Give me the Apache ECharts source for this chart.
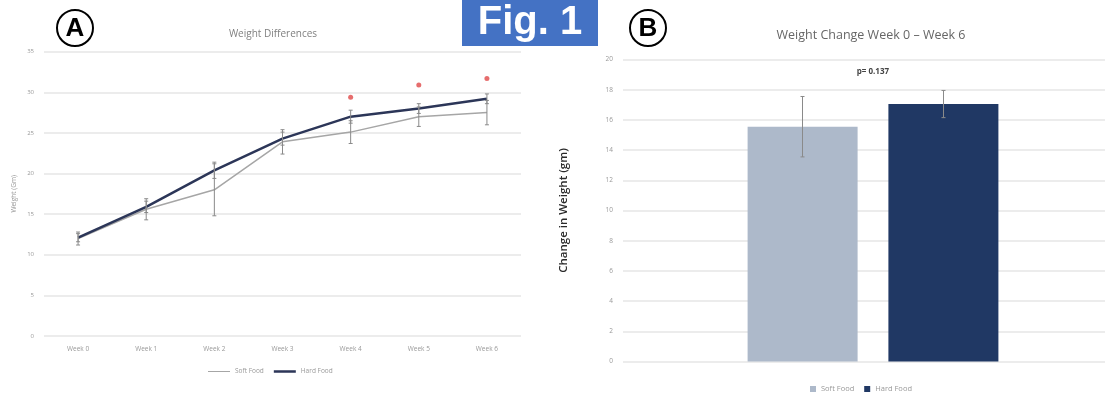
<!DOCTYPE html>
<html>
<head>
<meta charset="utf-8">
<script src="https://cdn.jsdelivr.net/npm/echarts@6/dist/echarts.min.js"></script>
<style>
  html, body { margin: 0; padding: 0; background: #fff; }
  #chart { width: 1105px; height: 396px; }
</style>
</head>
<body>
<div id="chart"></div>
<script>
// Panel A - weekly weights
const weeks = ['Week 0', 'Week 1', 'Week 2', 'Week 3', 'Week 4', 'Week 5', 'Week 6'];
const softFood = [12.0, 15.6, 18.0, 23.9, 25.1, 27.0, 27.5];
const softErr = [0.8, 1.3, 3.2, 1.5, 1.4, 1.2, 1.5];
const hardFood = [12.1, 15.9, 20.4, 24.3, 27.0, 28.0, 29.2];
const hardErr = [0.5, 0.7, 1.0, 0.8, 0.8, 0.6, 0.6];
const sigMarks = [null, null, null, null, 29.4, 30.9, 31.7];
const weightTicks = [0, 5, 10, 15, 20, 25, 30, 35];

// Panel B - change week 0 to week 6
const groups = ['Soft Food', 'Hard Food'];
const changeMean = [15.55, 17.05];
const changeErr = [2.0, 0.9];
const changeTicks = [0, 2, 4, 6, 8, 10, 12, 14, 16, 18, 20];

const softLine = '#a6a6a6';
const hardLine = '#2c3658';
const softBar = '#adb9ca';
const hardBar = '#203864';
const errColor = '#8a8a8a';

const chart = echarts.init(document.getElementById('chart'));

// error bar renderer for category axes, dx shifts within a band
function errorBars(dx, cap) {
    return function (params, api) {
        const x = api.value(0);
        const lo = api.coord([x, api.value(1)]);
        const hi = api.coord([x, api.value(2)]);
        const cx = lo[0] + dx;
        const style = { stroke: errColor, lineWidth: 1 };
        return {
            type: 'group',
            children: [
                { type: 'line', shape: { x1: cx, y1: lo[1], x2: cx, y2: hi[1] }, style: style },
                { type: 'line', shape: { x1: cx - cap, y1: lo[1], x2: cx + cap, y2: lo[1] }, style: style },
                { type: 'line', shape: { x1: cx - cap, y1: hi[1], x2: cx + cap, y2: hi[1] }, style: style }
            ]
        };
    };
}

const softBars = weeks.map((w, i) => [i, softFood[i] - softErr[i], softFood[i] + softErr[i]]);
const hardBars = weeks.map((w, i) => [i, hardFood[i] - hardErr[i], hardFood[i] + hardErr[i]]);

// legend line icons: invisible corner dots fix the box so the line keeps its thickness
const thinIcon = 'path://M0,0H0.01V0.01H0Z M0,2.6H22V3.4H0Z M0,5.99H0.01V6H0Z';
const thickIcon = 'path://M0,0H0.01V0.01H0Z M0,1.8H22V4.2H0Z M0,5.99H0.01V6H0Z';

chart.setOption({
    animation: false,
    textStyle: { fontFamily: 'Open Sans, Noto Sans, sans-serif' },
    title: [
        { text: 'Weight Differences', left: 268, top: 24, textAlign: 'center',
          textStyle: { fontSize: 10, fontWeight: 'normal', color: '#7f7f7f' } },
        { text: 'Weight Change Week 0 \u2013 Week 6', left: 866, top: 24, textAlign: 'center',
          textStyle: { fontSize: 12.5, fontWeight: 'normal', color: '#666' } }
    ],
    legend: [
        { data: [
              { name: 'Soft Food', icon: thinIcon, itemStyle: { color: softLine } },
              { name: 'Hard Food', icon: thickIcon, itemStyle: { color: hardLine } }
          ],
          left: 203, top: 363, itemWidth: 22, itemHeight: 6, itemGap: 10,
          textStyle: { fontSize: 6.5, color: '#999' } },
        { data: ['Soft Food ', 'Hard Food '], left: 805, top: 380, itemWidth: 6, itemHeight: 6, itemGap: 8,
          icon: 'rect', textStyle: { fontSize: 7.5, color: '#999' } }
    ],
    grid: [
        { left: 44, top: 51.7, width: 477, height: 284.3 },
        { left: 623, top: 59.5, right: 0, height: 302 },
        { left: 641, top: 59.5, right: 0, height: 302 }
    ],
    xAxis: [
        { type: 'category', gridIndex: 0, data: weeks,
          axisLine: { show: false }, axisTick: { show: false },
          axisLabel: { fontSize: 6.5, color: '#999', margin: 10 } },
        { type: 'category', gridIndex: 1, data: [''], show: false },
        { type: 'category', gridIndex: 2, data: ['Week 0 \u2013 Week 6'],
          axisLine: { show: false }, axisTick: { show: false }, axisLabel: { show: false } }
    ],
    yAxis: [
        { type: 'value', gridIndex: 0, min: weightTicks[0], max: weightTicks[weightTicks.length - 1], interval: 5,
          name: 'Weight (Gm)', nameLocation: 'middle', nameGap: 26,
          nameTextStyle: { fontSize: 6.5, color: '#999' },
          axisLabel: { fontSize: 6, color: '#999', margin: 10 },
          splitLine: { lineStyle: { color: '#e6e6e6', width: 1.5 } } },
        { type: 'value', gridIndex: 1, min: changeTicks[0], max: changeTicks[changeTicks.length - 1], interval: 2,
          name: 'Change in Weight (gm)', nameLocation: 'middle', nameGap: 53,
          nameTextStyle: { fontSize: 11.5, color: '#2a2a2a', fontWeight: 600 },
          axisLabel: { fontSize: 6.5, color: '#999', margin: 10 },
          splitLine: { lineStyle: { color: '#e6e6e6', width: 1.5 } } },
        { type: 'value', gridIndex: 2, min: changeTicks[0], max: changeTicks[changeTicks.length - 1],
          show: false, splitLine: { show: false } }
    ],
    series: [
        { name: 'Soft Food', type: 'line', xAxisIndex: 0, yAxisIndex: 0, data: softFood,
          symbol: 'none', lineStyle: { color: softLine, width: 1.5 }, itemStyle: { color: softLine }, z: 3 },
        { name: 'Hard Food', type: 'line', xAxisIndex: 0, yAxisIndex: 0, data: hardFood,
          symbol: 'none', lineStyle: { color: hardLine, width: 2.5 }, itemStyle: { color: hardLine }, z: 4 },
        { type: 'custom', xAxisIndex: 0, yAxisIndex: 0, data: softBars, renderItem: errorBars(0, 2), z: 5 },
        { type: 'custom', xAxisIndex: 0, yAxisIndex: 0, data: hardBars, renderItem: errorBars(0, 2), z: 5 },
        { type: 'scatter', xAxisIndex: 0, yAxisIndex: 0, data: sigMarks, symbol: 'circle', symbolSize: 5,
          itemStyle: { color: '#e04848' } },
        { name: 'Soft Food ', type: 'bar', xAxisIndex: 2, yAxisIndex: 2, data: [changeMean[0]],
          barWidth: 110, barGap: '28%', itemStyle: { color: softBar } },
        { name: 'Hard Food ', type: 'bar', xAxisIndex: 2, yAxisIndex: 2, data: [changeMean[1]],
          barWidth: 110, itemStyle: { color: hardBar },
          markPoint: {
              symbol: 'rect', symbolSize: 1, itemStyle: { color: 'transparent' },
              data: [{ coord: [0, 19.2], label: { show: true, formatter: 'p= 0.137', fontSize: 8, color: '#444',
                       fontWeight: 'bold', offset: [-70.5, 0] } }]
          } },
        { type: 'custom', xAxisIndex: 2, yAxisIndex: 2,
          data: [[0, changeMean[0] - changeErr[0], changeMean[0] + changeErr[0]]],
          renderItem: errorBars(-70.5, 2), z: 5 },
        { type: 'custom', xAxisIndex: 2, yAxisIndex: 2,
          data: [[0, changeMean[1] - changeErr[1], changeMean[1] + changeErr[1]]],
          renderItem: errorBars(70.5, 2), z: 5 }
    ],
    graphic: [
        { type: 'circle', shape: { cx: 75, cy: 28, r: 18 }, style: { fill: '#fff', stroke: '#000', lineWidth: 2 } },
        { type: 'text', x: 75, y: 29, style: { text: 'A', fontSize: 26, fontWeight: 'bold', fill: '#000',
          align: 'center', verticalAlign: 'middle', fontFamily: 'Liberation Sans, Arial, sans-serif' } },
        { type: 'circle', shape: { cx: 648, cy: 28, r: 18 }, style: { fill: '#fff', stroke: '#000', lineWidth: 2 } },
        { type: 'text', x: 648, y: 29, style: { text: 'B', fontSize: 26, fontWeight: 'bold', fill: '#000',
          align: 'center', verticalAlign: 'middle', fontFamily: 'Liberation Sans, Arial, sans-serif' } },
        { type: 'rect', shape: { x: 462, y: 0, width: 136, height: 46 }, style: { fill: '#4472c4' } },
        { type: 'text', x: 530, y: 23, style: { text: 'Fig. 1', fontSize: 40, fontWeight: 'bold', fill: '#fff',
          align: 'center', verticalAlign: 'middle', fontFamily: 'Liberation Sans, Arial, sans-serif' } }
    ]
});
</script>
</body>
</html>
